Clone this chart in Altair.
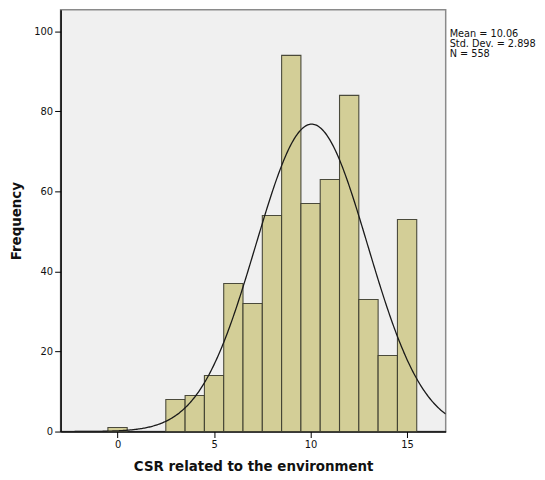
import altair as alt
import pandas as pd

# Histogram data (bin centers and counts)
bin_centers = [0, 3, 4, 5, 6, 7, 8, 9, 10, 11, 12, 13, 14, 15]
counts = [1, 8, 9, 14, 37, 32, 54, 94, 57, 63, 84, 33, 19, 53]

mean_val = 10.06
sd_val = 2.898
n_val = 558
stats_lines = ["Mean = 10.06", "Std. Dev. = 2.898", "N = 558"]

df = pd.DataFrame({"center": bin_centers, "count": counts})
df["x0"] = df["center"] - 0.5
df["x1"] = df["center"] + 0.5

x_scale = alt.Scale(domain=[-2.95, 17], nice=False, zero=False)
y_scale = alt.Scale(domain=[0, 105.4], nice=False)

FONT = "DejaVu Sans"

bars = alt.Chart(df).mark_rect(
    fill="#d3ce97", stroke="#3a3a2c", strokeWidth=1.1, strokeOpacity=0.9
).encode(
    x=alt.X("x0:Q", scale=x_scale,
            axis=alt.Axis(values=[0, 5, 10, 15], title="CSR related to the environment")),
    x2="x1:Q",
    y=alt.Y("count:Q", scale=y_scale,
            axis=alt.Axis(values=[0, 20, 40, 60, 80, 100], title="Frequency")),
    y2=alt.datum(0),
)

curve = alt.Chart(alt.sequence(-2.95, 17.001, 0.05, as_="x")).transform_calculate(
    y=f"{n_val} / ({sd_val} * sqrt(2*PI)) * exp(-0.5 * pow((datum.x - {mean_val}) / {sd_val}, 2))"
).mark_line(color="#1a1a1a", strokeWidth=1.3, clip=True).encode(
    x=alt.X("x:Q", scale=x_scale),
    y=alt.Y("y:Q", scale=y_scale),
)

stats = alt.Chart(pd.DataFrame({"a": [0]})).mark_text(
    align="left", baseline="top", font=FONT, fontSize=9.8, color="#111111",
    lineHeight=10, text=stats_lines,
).encode(
    x=alt.value(392),
    y=alt.value(19.5),
)

chart = alt.layer(bars, curve, stats).properties(
    width=388,
    height=425,
    autosize=alt.AutoSizeParams(type="none"),
    padding={"left": 53, "top": 0, "right": 92, "bottom": 41},
).configure_view(
    fill="#f0f0f0", stroke="#8a8a8a", strokeWidth=1.5
).configure_axis(
    domainColor="#000000", domainWidth=1.5, tickColor="#000000", tickSize=6,
    grid=False, labelFont=FONT, labelFontSize=10, labelColor="#111111",
    titleFont=FONT, titleFontSize=13.5, titleFontWeight="bold", titleColor="#111111",
    labelPadding=2,
).configure_axisX(titlePadding=10).configure_axisY(titlePadding=10)

chart.save("out.html", embed_options={"renderer": "svg", "actions": False})
